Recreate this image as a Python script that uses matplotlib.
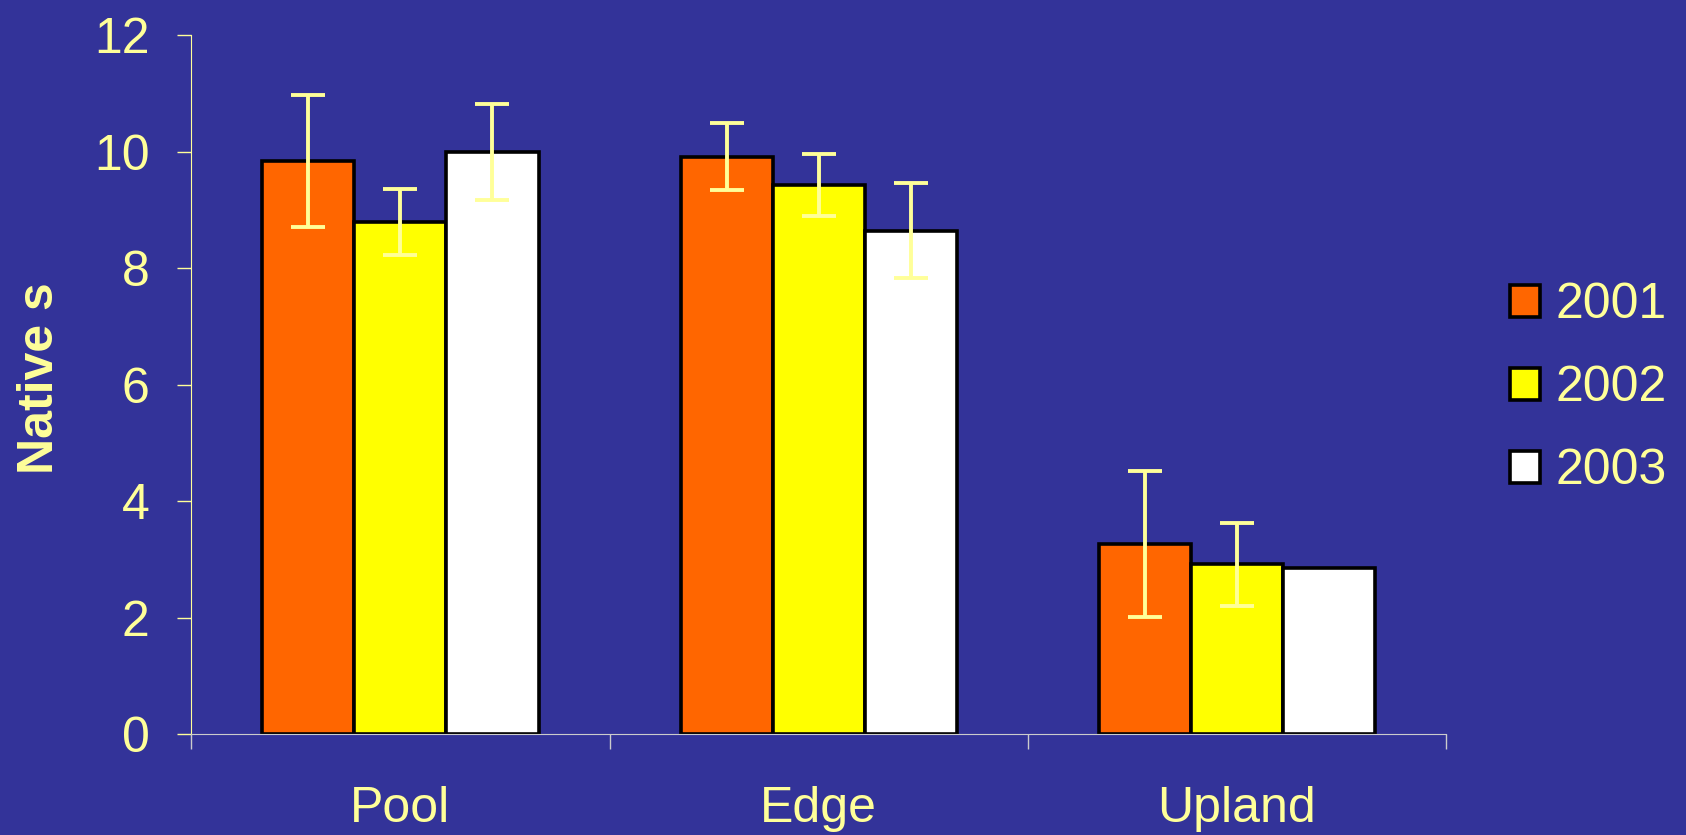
import numpy as np
import matplotlib
matplotlib.use("Agg")
import matplotlib.pyplot as plt
from matplotlib.ticker import FixedLocator, NullFormatter, FixedFormatter

# data
sites = ["Pool", "Edge", "Upland"]
years = ["2001", "2002", "2003"]
means_2001 = [9.85, 9.92, 3.27]
means_2002 = [8.80, 9.43, 2.92]
means_2003 = [10.0, 8.65, 2.85]
err_2001 = [1.13, 0.57, 1.25]
err_2002 = [0.57, 0.53, 0.71]
err_2003 = [0.82, 0.82, np.nan]   # no bar shown for Upland 2003
y_ticks = [0, 2, 4, 6, 8, 10, 12]

bg = "#333399"
txt = "#FFFF99"
colors = ["#FF6600", "#FFFF00", "#FFFFFF"]

plt.rcParams["font.family"] = ["Liberation Sans", "DejaVu Sans"]

fig = plt.figure(figsize=(16.86, 8.35), dpi=100, facecolor=bg)
ax = fig.add_axes([0.1135, 0.1205, 0.7442, 0.837])
ax.set_facecolor(bg)

x = np.arange(len(sites))
w = 0.22
series = [(means_2001, err_2001), (means_2002, err_2002), (means_2003, err_2003)]
for i, (m, e) in enumerate(series):
    ax.bar(x + (i - 1) * w, m, w, yerr=e, color=colors[i], edgecolor="black",
           linewidth=2.6, label=years[i],
           error_kw=dict(ecolor=txt, elinewidth=2.8, capsize=12.5, capthick=2.8))

ax.set_xlim(-0.5, 2.5)
ax.set_ylim(0, 12)

# y axis
ax.set_yticks(y_ticks)
ax.set_yticklabels([str(t) for t in y_ticks])
ax.tick_params(axis="y", colors=txt, labelcolor=txt, labelsize=36,
               length=10, width=1, pad=20)
for lbl in ax.get_yticklabels():
    lbl.set_va("center_baseline")

# x axis: ticks at category boundaries, labels at centres
ax.xaxis.set_major_locator(FixedLocator([-0.5, 0.5, 1.5, 2.5]))
ax.xaxis.set_major_formatter(NullFormatter())
ax.xaxis.set_minor_locator(FixedLocator(x))
ax.xaxis.set_minor_formatter(FixedFormatter(sites))
ax.tick_params(axis="x", which="major", colors="#CCCCCC", length=11, width=1)
ax.tick_params(axis="x", which="minor", length=0, labelcolor=txt,
               labelsize=36, pad=37)

for s in ["top", "right"]:
    ax.spines[s].set_visible(False)
ax.spines["left"].set_color(txt)
ax.spines["bottom"].set_color("#CCCCCC")

ax.set_ylabel("Native s", color=txt, fontsize=36, fontweight="bold")
ax.yaxis.label.set_va("center")
ax.yaxis.set_label_coords(-0.121, 0.51)

leg = ax.legend(loc="center left", bbox_to_anchor=(0.8956, 0.535),
                bbox_transform=fig.transFigure, frameon=False, fontsize=36,
                handlelength=0.6, handleheight=0.6, handletextpad=0.32,
                labelspacing=0.74, borderpad=0, borderaxespad=0)
for t in leg.get_texts():
    t.set_color(txt)

fig.savefig("out.png", dpi=100, facecolor=bg)
